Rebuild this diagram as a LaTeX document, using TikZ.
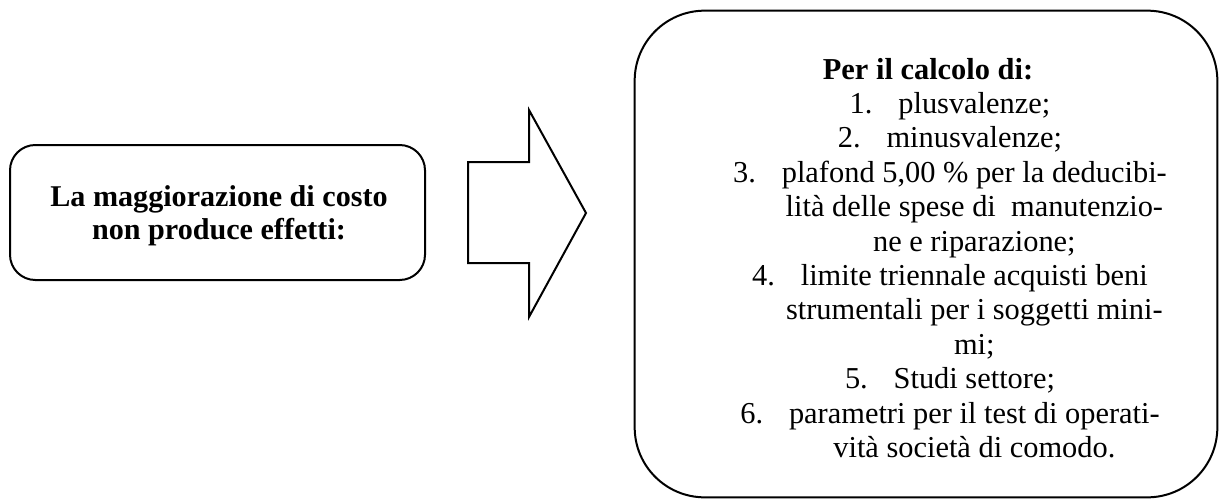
\documentclass[tikz,border=0pt]{standalone}
\usepackage{fontspec}
\setmainfont{Liberation Serif}
\begin{document}
\begin{tikzpicture}[x=0.75pt,y=-0.75pt,
  panel/.style={draw=black,line width=1.5pt,rectangle},
  blockarrow/.style={draw=black,line width=1.5pt,line join=miter},
  bodytext/.style={align=center,inner sep=0pt,font=\fontsize{22.8pt}{25.8pt}\selectfont},
  headtext/.style={align=center,inner sep=0pt,font=\fontsize{22.6pt}{24.75pt}\selectfont\bfseries}]
\useasboundingbox (0,0) rectangle (1219,503);
% left box
\node[panel,rounded corners=19pt,minimum width=311.25pt,minimum height=101.25pt] (left) at (217.5,212.5) {};
\node[headtext] (lefttext) at (219,216) {La maggiorazione di costo\\non produce effetti:};
% block arrow
\coordinate (a1) at (468,162);
\coordinate (a2) at (529,162);
\coordinate (a3) at (529,110);
\coordinate (a4) at (586,213);
\coordinate (a5) at (529,317);
\coordinate (a6) at (529,263);
\coordinate (a7) at (468,263);
\draw[blockarrow] (a1) -- (a2) -- (a3) -- (a4) -- (a5) -- (a6) -- (a7) -- cycle;
% right box
\node[panel,rounded corners=52.5pt,minimum width=437pt,minimum height=365pt] (right) at (926,254) {};
\node[bodytext] (righttext) at (950,258) {%
\textbf{Per il calcolo di:}\hspace*{33pt}\\
\makebox[36.5pt][l]{1.}plusvalenze;\\
\makebox[36.5pt][l]{2.}minusvalenze;\\
\makebox[36.5pt][l]{3.}plafond 5,00 \% per la deducibi-\\
\hspace*{36.5pt}lità delle spese di\ \ manutenzio-\\
\hspace*{36.5pt}ne e riparazione;\\
\makebox[36.5pt][l]{4.}limite triennale acquisti beni\\
\hspace*{36.5pt}strumentali per i soggetti mini-\\
\hspace*{36.5pt}mi;\\
\makebox[36.5pt][l]{5.}Studi settore;\\
\makebox[36.5pt][l]{6.}parametri per il test di operati-\\
\hspace*{36.5pt}vità società di comodo.};
\end{tikzpicture}
\end{document}
